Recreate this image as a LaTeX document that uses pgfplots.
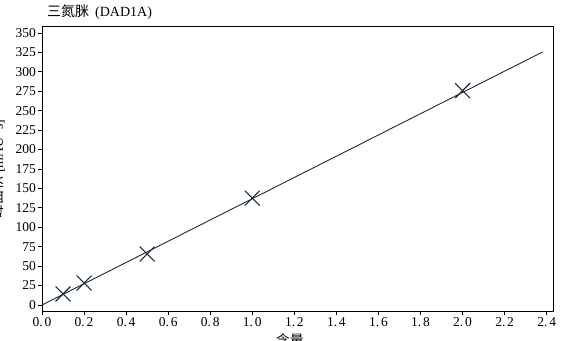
\documentclass[border=0pt]{standalone}
\usepackage{fontspec}
\setmainfont{Liberation Serif}
\newfontfamily\cjk{Noto Sans CJK SC}
\usepackage{pgfplots}
\pgfplotsset{compat=1.18}
\definecolor{ln}{HTML}{1C2A3A}
\newcommand{\g}{\hspace{1.8pt}}
\begin{document}
\begin{tikzpicture}[x=1pt,y=1pt]
\useasboundingbox (0,0) rectangle (577,340);
\begin{axis}[at={(42pt,29pt)}, anchor=south west, scale only axis,
  width=511pt, height=284pt,
  xmin=0, xmax=2.43, ymin=-7.7, ymax=357.7,
  axis line style={line width=1pt},
  tick align=outside, tick pos=left, major tick length=4pt,
  tick style={line width=0.8pt, black},
  xtick={0,0.2,0.4,0.6,0.8,1.0,1.2,1.4,1.6,1.8,2.0,2.2,2.4},
  xticklabels={0.\g0,0.\g2,0.\g4,0.\g6,0.\g8,1.\g0,1.\g2,1.\g4,1.\g6,1.\g8,2.\g0,2.\g2,2.\g4},
  ytick={0,25,50,75,100,125,150,175,200,225,250,275,300,325,350},
  /pgf/number format/assume math mode=true,
  ticklabel style={font=\fontsize{13.5}{14}\selectfont},
  xticklabel style={yshift=1pt},
  yticklabel style={xshift=1.5pt},
  xlabel={\cjk 含量},
  xlabel style={at={(axis description cs:0.485,0)}, anchor=north, yshift=-22pt, inner sep=0pt, font=\fontsize{14}{14}\selectfont},
  ylabel={{\cjk 峰面积} [mAU*s]},
  ylabel style={at={(axis description cs:-0.0725,0.5)}, anchor=south, inner sep=0pt, font=\fontsize{14}{14}\selectfont},
  clip=false,
]
\addplot[ln, line width=0.9pt, no marks] coordinates {(0,0) (2.38,325.5)};
\addplot[ln, only marks, mark=x, mark size=10.5pt, mark options={line width=1.1pt}] coordinates {
(0.1,14.2) (0.2,28.3) (0.5,65.6) (1.0,137.5) (2.0,275.8)};
\end{axis}
\node[anchor=base west, inner sep=0pt, font=\fontsize{14}{14}\selectfont] at (47,323) {{\cjk 三氮脒}\hspace{6pt}(DAD1A)};
\end{tikzpicture}
\end{document}
